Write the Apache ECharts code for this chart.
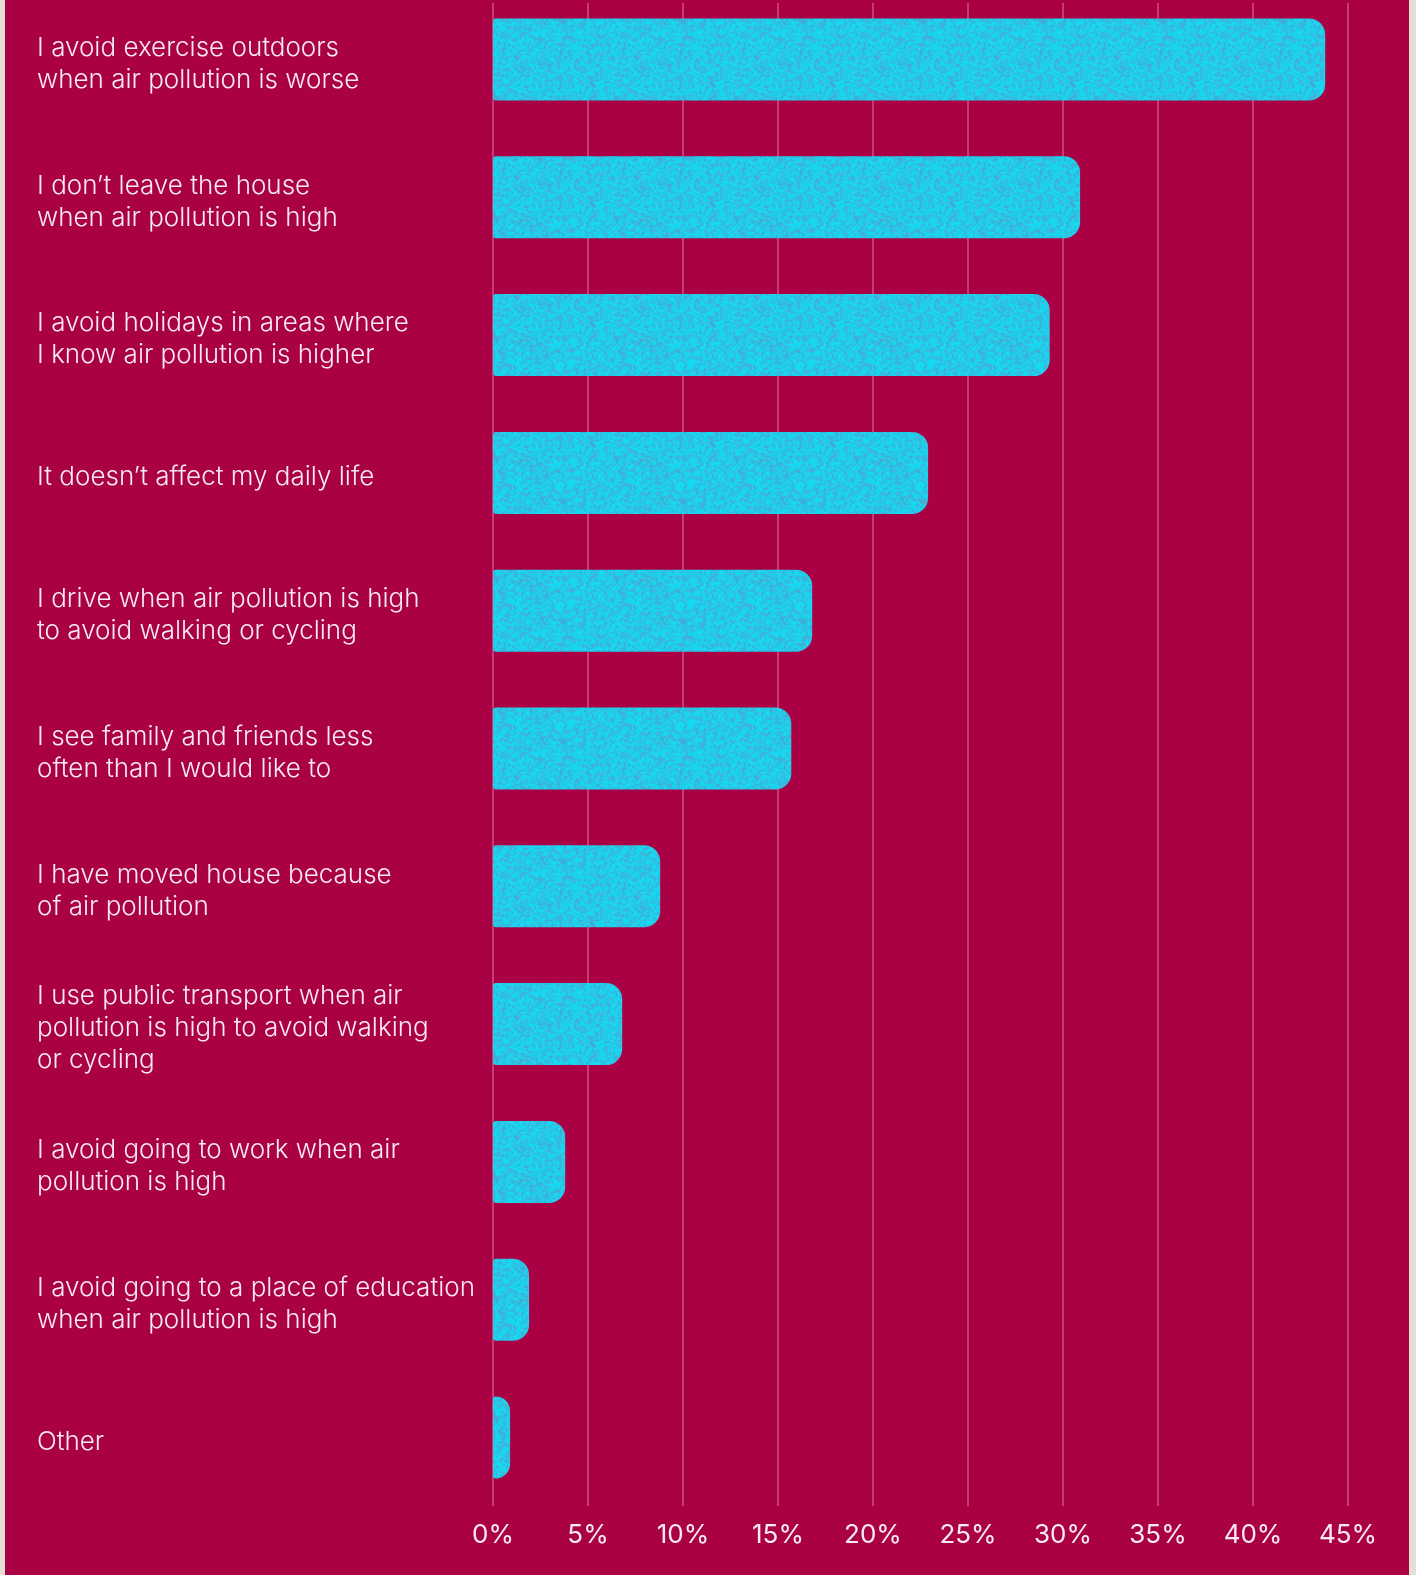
<!DOCTYPE html>
<html>
<head>
<meta charset="utf-8">
<script src="https://cdn.jsdelivr.net/npm/echarts@6/dist/echarts.min.js"></script>
<style>
html,body{margin:0;padding:0;background:#AA0044;}
#chart{width:1416px;height:1575px;}
</style>
</head>
<body>
<div id="chart"></div>
<script>
const categories = [
  "I avoid exercise outdoors\nwhen air pollution is worse",
  "I don’t leave the house\nwhen air pollution is high",
  "I avoid holidays in areas where\nI know air pollution is higher",
  "It doesn’t affect my daily life",
  "I drive when air pollution is high\nto avoid walking or cycling",
  "I see family and friends less\noften than I would like to",
  "I have moved house because\nof air pollution",
  "I use public transport when air\npollution is high to avoid walking\nor cycling",
  "I avoid going to work when air\npollution is high",
  "I avoid going to a place of education\nwhen air pollution is high",
  "Other"
];
const values = [43.8, 30.9, 29.3, 22.9, 16.8, 15.7, 8.8, 6.8, 3.8, 1.9, 0.9];
const tickValues = [0, 5, 10, 15, 20, 25, 30, 35, 40, 45];

// deterministic mottled texture for the bars
function makeTexture() {
  const N = 60, S = 2, W = N * S;
  let s = 987654;
  function nxt() { s = (s * 1103515245 + 12345) & 0x7fffffff; return s / 0x7fffffff; }
  const small = [];
  for (let i = 0; i < N * N; i++) small.push(nxt());
  const c = document.createElement('canvas');
  c.width = W; c.height = W;
  const ctx = c.getContext('2d');
  const img = ctx.createImageData(W, W);
  function at(x, y) { return small[((y + N) % N) * N + ((x + N) % N)]; }
  for (let y = 0; y < W; y++) {
    for (let x = 0; x < W; x++) {
      const fx = x / S, fy = y / S;
      const x0 = Math.floor(fx), y0 = Math.floor(fy);
      const tx = fx - x0, ty = fy - y0;
      const v = at(x0, y0) * (1 - tx) * (1 - ty) + at(x0 + 1, y0) * tx * (1 - ty) +
                at(x0, y0 + 1) * (1 - tx) * ty + at(x0 + 1, y0 + 1) * tx * ty;
      const f = nxt();
      let k = (v * 0.75 + f * 0.25 - 0.3) * 1.1;
      k = Math.max(0, Math.min(1, k));
      const i = (y * W + x) * 4;
      img.data[i] = 20 + (100 - 20) * k;
      img.data[i + 1] = 218 + (140 - 218) * k;
      img.data[i + 2] = 242 + (192 - 242) * k;
      img.data[i + 3] = 255;
    }
  }
  ctx.putImageData(img, 0, 0);
  return c;
}

const chart = echarts.init(document.getElementById('chart'), null, {renderer: 'canvas'});
const textColor = '#F7EAF0';
const font = 'Inter, "Liberation Sans", sans-serif';
const hiddenX = {type: 'value', min: 0, max: 45, interval: 5, show: false, splitLine: {show: false}};

chart.setOption({
  backgroundColor: '#AA0044',
  animation: false,
  graphic: [
    {type: 'rect', left: 0, top: 0, shape: {width: 5, height: 1575}, style: {fill: '#E6DED4'}},
    {type: 'rect', left: 1409, top: 0, shape: {width: 7, height: 1575}, style: {fill: '#E6DED4'}}
  ],
  grid: [
    {left: 493, width: 855, top: -9.4, height: 1515.8, containLabel: false, outerBoundsMode: 'none'},
    {left: 493, width: 855, top: 3, height: 1503, containLabel: false, outerBoundsMode: 'none'},
    {left: 493, width: 855, top: -4.9, height: 1515.8, containLabel: false, outerBoundsMode: 'none'}
  ],
  xAxis: [
    Object.assign({gridIndex: 0}, hiddenX),
    {
      gridIndex: 1, type: 'value', min: 0, max: 45, interval: 5,
      axisLine: {show: false}, axisTick: {show: false},
      axisLabel: {
        color: textColor, fontSize: 26, fontFamily: font, margin: 16,
        formatter: v => tickValues.includes(v) ? v + '%' : ''
      },
      splitLine: {show: true, lineStyle: {color: 'rgba(255,190,215,0.42)', width: 1.5}}
    },
    Object.assign({gridIndex: 2}, hiddenX)
  ],
  yAxis: [
    {
      gridIndex: 0, type: 'category', data: categories, inverse: true,
      axisLine: {show: false}, axisTick: {show: false}, splitLine: {show: false},
      axisLabel: {show: false}
    },
    {
      gridIndex: 1, type: 'category', data: categories, inverse: true, show: false
    },
    {
      gridIndex: 2, type: 'category', data: categories, inverse: true,
      axisLine: {show: false}, axisTick: {show: false}, splitLine: {show: false},
      axisLabel: {
        align: 'left', margin: 456, color: textColor, fontSize: 26, lineHeight: 32,
        fontFamily: font, fontWeight: 300
      }
    }
  ],
  series: [{
    type: 'bar',
    xAxisIndex: 0, yAxisIndex: 0,
    data: values,
    barWidth: 82,
    itemStyle: {
      color: {image: makeTexture(), repeat: 'repeat'},
      borderRadius: [3, 16, 16, 3]
    }
  }]
});
</script>
</body>
</html>
